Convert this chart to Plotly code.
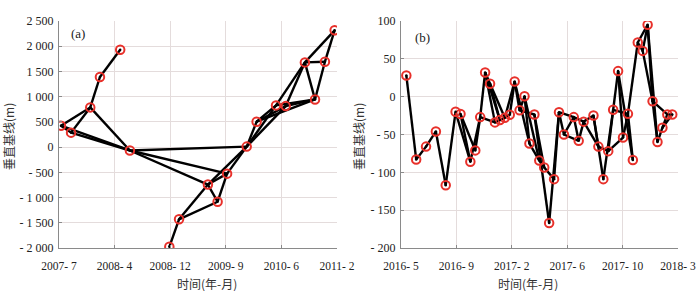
import plotly.graph_objects as go

# ---------------- Panel (a) data ----------------
a_dates = ["2007-07-24", "2007-09-09", "2007-12-07", "2008-01-21", "2008-04-24",
           "2008-06-08", "2008-12-08", "2009-01-22", "2009-06-05", "2009-07-20",
           "2009-09-02", "2009-12-02", "2010-01-17", "2010-04-17", "2010-06-01",
           "2010-08-29", "2010-10-15", "2010-11-30", "2011-01-14"]
a_vals = [425, 287, 787, 1390, 1929, -67, -1976, -1431, -742, -1083,
          -526, 10, 504, 827, 813, 1679, 945, 1693, 2315]
a_edges = [(1, 2), (1, 3), (2, 3), (3, 4), (4, 5), (1, 6), (2, 6), (3, 6),
           (6, 9), (6, 11), (6, 12), (7, 8), (8, 9), (8, 10), (9, 10), (9, 11),
           (9, 12), (10, 11), (11, 12), (12, 13), (12, 14), (12, 15), (13, 14),
           (13, 15), (13, 17), (14, 16), (15, 16), (14, 17), (15, 17), (16, 17),
           (16, 18), (17, 18), (16, 19), (18, 19)]
a_xticks = ["2007-07-15", "2008-03-29", "2008-12-12", "2009-08-27", "2010-05-12", "2011-01-25"]
a_xlabels = ["2007- 7", "2008- 4", "2008- 12", "2009- 9", "2010- 6", "2011- 2"]
a_yticks = [-2000, -1500, -1000, -500, 0, 500, 1000, 1500, 2000, 2500]
a_ylabels = ["- 2 000", "- 1 500", "- 1 000", "- 500", "0", "500", "1 000", "1 500", "2 000", "2 500"]

# ---------------- Panel (b) data ----------------
b_dates = ["2016-05-14", "2016-06-07", "2016-07-01", "2016-07-25", "2016-08-18",
           "2016-09-11", "2016-09-23", "2016-10-17", "2016-10-29", "2016-11-10",
           "2016-11-22", "2016-12-04", "2016-12-16", "2016-12-28", "2017-01-09",
           "2017-01-21", "2017-02-02", "2017-02-14", "2017-02-26", "2017-03-10",
           "2017-03-22", "2017-04-03", "2017-04-15", "2017-04-27", "2017-05-09",
           "2017-05-21", "2017-06-02", "2017-06-26", "2017-07-08", "2017-07-20",
           "2017-08-13", "2017-08-25", "2017-09-06", "2017-09-18", "2017-09-30",
           "2017-10-12", "2017-10-24", "2017-11-05", "2017-11-17", "2017-11-29",
           "2017-12-11", "2017-12-23", "2018-01-04", "2018-01-16", "2018-01-28",
           "2018-02-09", "2018-02-21"]
b_vals = [28, -83, -66, -46, -117, -20, -23, -86, -71, -27,
          32, 17, -34, -31, -28, -24, 20, -18, 0.5, -62,
          -23.6, -84.5, -93.5, -167, -109, -20.5, -50, -27, -58.4, -33,
          -25, -66, -109, -72, -17.4, 33.8, -54, -22.7, -83.7, 71.6,
          60.5, 95, -6, -60, -41, -23.5, -23.6]
b_edges = [(1, 2), (2, 3), (3, 4), (4, 5), (5, 6), (6, 8), (7, 8), (7, 9),
           (8, 10), (9, 10), (10, 11), (10, 13), (11, 12), (11, 13), (11, 14),
           (12, 14), (12, 15), (13, 14), (14, 15), (15, 16), (15, 17), (16, 17),
           (17, 18), (17, 20), (18, 21), (18, 19), (19, 20), (19, 22), (21, 23),
           (21, 24), (20, 22), (22, 23), (23, 25), (24, 26), (25, 26), (26, 27),
           (26, 28), (27, 28), (27, 29), (28, 29), (28, 30), (29, 30), (30, 31),
           (30, 32), (31, 32), (31, 33), (32, 34), (33, 35), (34, 35), (34, 37),
           (35, 36), (35, 38), (36, 37), (36, 39), (37, 38), (38, 39), (38, 40),
           (40, 41), (41, 42), (40, 42), (42, 43), (41, 43), (42, 44), (43, 44),
           (43, 46), (44, 45), (45, 46), (45, 47), (46, 47)]
b_xticks = ["2016-05-01", "2016-09-13", "2017-01-26", "2017-06-10", "2017-10-23", "2018-03-07"]
b_xlabels = ["2016- 5", "2016- 9", "2017- 2", "2017- 6", "2017- 10", "2018- 3"]
b_yticks = [-200, -150, -100, -50, 0, 50, 100]
b_ylabels = ["- 200", "- 150", "- 100", "- 50", "0", "50", "100"]

FONT = "Liberation Serif, Times New Roman, Noto Sans CJK SC, serif"
CJK = "Noto Sans CJK SC, Liberation Serif, serif"
GRID = "#e4dcdc"
AXC = "#8a8a8a"

W, H = 700, 291


def edge_xy(dates, vals, edges):
    xs, ys = [], []
    for i, j in edges:
        xs += [dates[i - 1], dates[j - 1], None]
        ys += [vals[i - 1], vals[j - 1], None]
    return xs, ys


fig = go.Figure()
for dates, vals, edges, xa, ya in [(a_dates, a_vals, a_edges, "x", "y"),
                                    (b_dates, b_vals, b_edges, "x2", "y2")]:
    ex, ey = edge_xy(dates, vals, edges)
    fig.add_trace(go.Scatter(x=ex, y=ey, mode="lines", xaxis=xa, yaxis=ya,
                             line=dict(color="black", width=2.4),
                             hoverinfo="skip", showlegend=False))
    fig.add_trace(go.Scatter(x=dates, y=vals, mode="markers", xaxis=xa, yaxis=ya,
                             marker=dict(symbol="circle-open", size=8.5, color="#e8302a",
                                         line=dict(width=2, color="#e8302a")),
                             showlegend=False))
    fig.add_trace(go.Scatter(x=dates, y=vals, mode="markers", xaxis=xa, yaxis=ya,
                             marker=dict(symbol="circle", size=2.5, color="black"),
                             hoverinfo="skip", showlegend=False))

ybot, ytop = (H - 248) / H, (H - 21) / H


def xaxis_cfg(x0, x1, ticks, labels):
    return dict(domain=[x0 / W, x1 / W], type="date", range=[ticks[0], ticks[-1]],
                tickmode="array", tickvals=ticks, ticktext=labels, automargin=False,
                showgrid=True, gridcolor=GRID, gridwidth=1,
                showline=True, linecolor=AXC, linewidth=1.2,
                ticks="inside", ticklen=3, tickcolor=AXC, ticklabelstandoff=7,
                tickfont=dict(family=FONT, size=11.5, color="#222"),
                zeroline=False, fixedrange=True)


def yaxis_cfg(rng, ticks, labels, anchor):
    return dict(domain=[ybot, ytop], range=rng, anchor=anchor, automargin=False,
                tickmode="array", tickvals=ticks, ticktext=labels,
                showgrid=True, gridcolor=GRID, gridwidth=1,
                showline=True, linecolor=AXC, linewidth=1.2,
                ticks="inside", ticklen=3, tickcolor=AXC, ticklabelstandoff=2,
                tickfont=dict(family=FONT, size=12, color="#222"),
                zeroline=False, fixedrange=True)


def ann(text, x, y, font, **kw):
    return dict(text=text, x=x / W, y=(H - y) / H, xref="paper", yref="paper",
                xanchor="center", yanchor="middle", showarrow=False, font=font, **kw)


fig.update_layout(
    width=W, height=H, margin=dict(l=0, r=0, t=0, b=0, autoexpand=False),
    paper_bgcolor="white", plot_bgcolor="white",
    xaxis=xaxis_cfg(59, 337, a_xticks, a_xlabels) | dict(anchor="y"),
    yaxis=yaxis_cfg([-2000, 2500], a_yticks, a_ylabels, "x"),
    xaxis2=xaxis_cfg(401, 678, b_xticks, b_xlabels) | dict(anchor="y2"),
    yaxis2=yaxis_cfg([-200, 100], b_yticks, b_ylabels, "x2"),
    annotations=[
        ann("(a)", 78, 33, dict(family=FONT, size=13, color="#222")),
        ann("(b)", 422, 38, dict(family=FONT, size=13, color="#222")),
        ann("时间(年-月)", 207, 283, dict(family=CJK, size=12, color="#333")),
        ann("时间(年-月)", 528, 283, dict(family=CJK, size=12, color="#333")),
        ann("垂直基线(m)", 8, 137, dict(family=CJK, size=12, color="#333"), textangle=-90),
        ann("垂直基线(m)", 358, 137, dict(family=CJK, size=12, color="#333"), textangle=-90),
    ],
)

fig.write_html("out.html", config={"displayModeBar": False, "staticPlot": True},
               post_script="document.body.style.margin='0';document.body.style.overflow='hidden';")
